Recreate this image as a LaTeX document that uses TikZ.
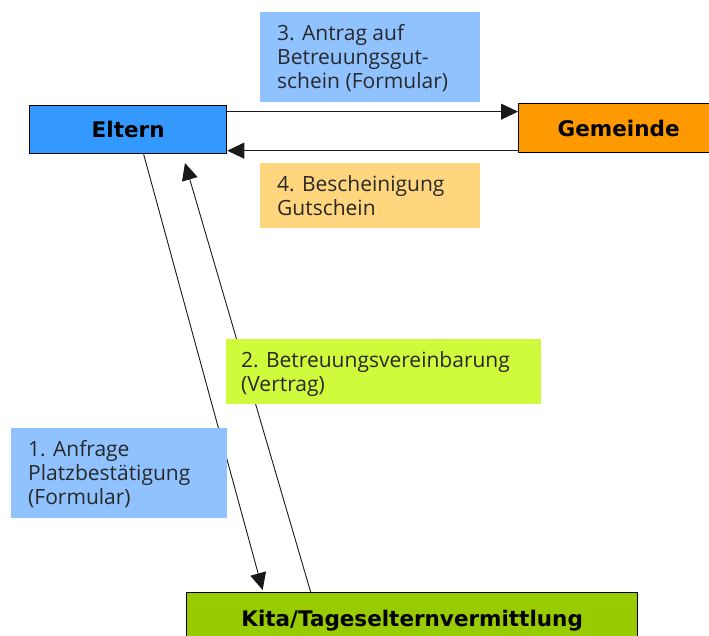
\documentclass[tikz,border=0pt]{standalone}
\usepackage{fontspec}
\usetikzlibrary{arrows.meta}
\newfontfamily\lblfont{Open Sans}
\newfontfamily\boxfont{DejaVu Sans}
\definecolor{elternblue}{RGB}{51,153,255}
\definecolor{gemorange}{RGB}{255,153,0}
\definecolor{kitagreen}{RGB}{153,204,0}
\definecolor{lblblue}{RGB}{143,194,255}
\definecolor{lblorange}{RGB}{255,214,125}
\definecolor{lblgreen}{RGB}{208,250,60}
\definecolor{txtdark}{RGB}{40,40,40}
\begin{document}
\begin{tikzpicture}[x=1pt,y=-1pt,
  mainbox/.style={draw=black, line width=1.3pt, inner sep=0pt,
    font=\boxfont\bfseries\fontsize{21.5}{24}\selectfont},
  lblbox/.style={inner sep=0pt, anchor=north west},
  lbltext/.style={inner sep=0pt, anchor=north west, align=left, text=txtdark,
    font=\lblfont\fontsize{21}{24}\selectfont},
  conn/.style={draw=black!90, line width=0.9pt, -{Triangle[length=17pt,width=16pt]}}]
\useasboundingbox (0,0) rectangle (709,635);
% main boxes
\node[mainbox, fill=elternblue, minimum width=197pt, minimum height=48pt, anchor=north west] (eltern) at (29,105) {Eltern};
\node[mainbox, fill=gemorange, minimum width=200pt, minimum height=49pt, anchor=north west] (gemeinde) at (518,103) {Gemeinde};
\node[mainbox, fill=kitagreen, minimum width=451pt, minimum height=56pt, anchor=north west] (kita) at (186,592) {Kita/Tageselternvermittlung};
% connectors (drawn below the label boxes)
\coordinate (t2) at (185,163);
\draw[conn] ([xshift=15.5pt]eltern.south) -- ([xshift=-149.5pt,yshift=2pt]kita.north);
\draw[conn] ([xshift=-101.5pt]kita.north) -- (t2);
\draw[conn] ([yshift=18pt]eltern.east) -- ([yshift=16.5pt]gemeinde.west);
\draw[conn] ([yshift=-22.5pt]gemeinde.west) -- ([yshift=-21pt]eltern.east);
% label boxes
\node[lblbox, fill=lblblue, minimum width=220pt, minimum height=90pt] (l3box) at (260,12) {};
\node[lbltext] (l3) at (277,24.5) {3. Antrag auf\\Betreuungsgut-\\schein (Formular)};
\node[lblbox, fill=lblorange, minimum width=220pt, minimum height=65pt] (l4box) at (260,163) {};
\node[lbltext] (l4) at (277,175) {4. Bescheinigung\\Gutschein};
\node[lblbox, fill=lblgreen, minimum width=315pt, minimum height=65pt] (l2box) at (226,339) {};
\node[lbltext] (l2) at (241,351) {2. Betreuungsvereinbarung\\(Vertrag)};
\node[lblbox, fill=lblblue, minimum width=216pt, minimum height=90pt] (l1box) at (11,428) {};
\node[lbltext] (l1) at (28,440.5) {1. Anfrage\\Platzbestätigung\\(Formular)};
\end{tikzpicture}
\end{document}
